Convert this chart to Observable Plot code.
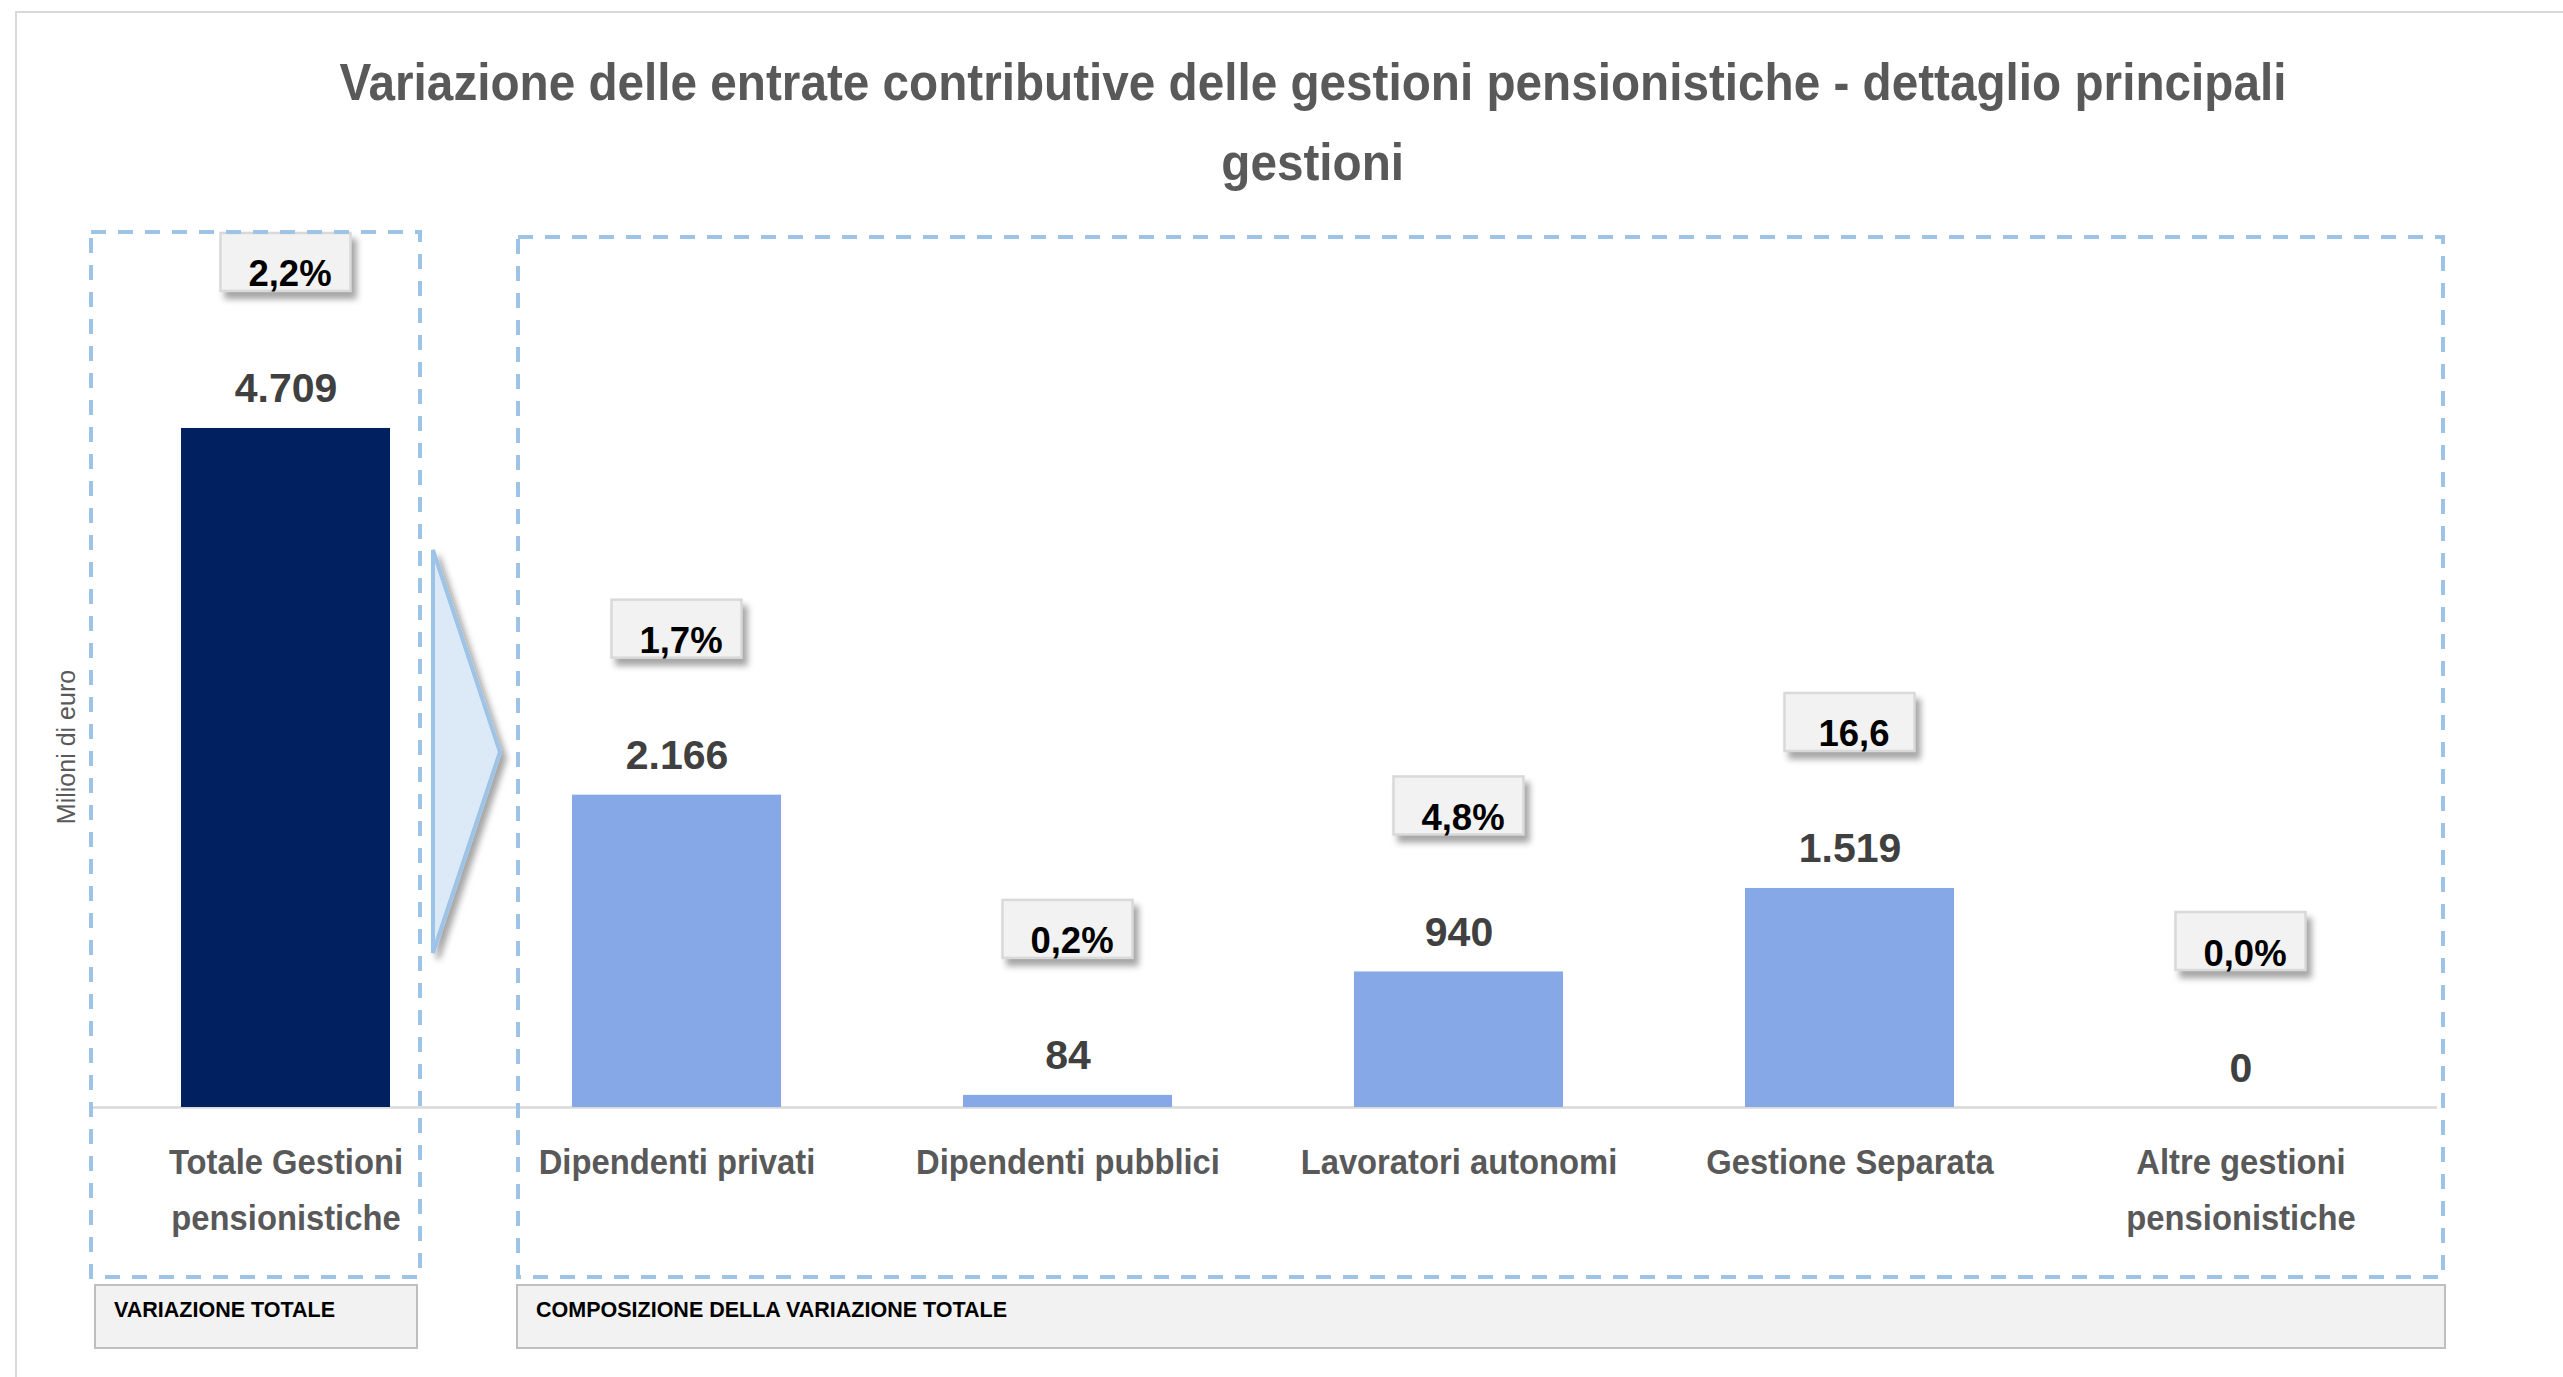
<!DOCTYPE html>
<html>
<head>
<meta charset="utf-8">
<script src="https://cdn.jsdelivr.net/npm/d3@7"></script>
<script src="https://cdn.jsdelivr.net/npm/@observablehq/plot@0.6"></script>
<style>
  html, body { margin: 0; padding: 0; background: #fff; }
  #page { position: relative; width: 2563px; height: 1377px; overflow: hidden; background: #fff; }
  #title { position: absolute; left: 62px; right: 0; top: 42px; text-align: center;
    font-family: "Liberation Sans", Arial, sans-serif; font-weight: bold; font-size: 52px; line-height: 80px; color: #595959; }
  #title span { display: inline-block; white-space: nowrap; transform-origin: 50% 50%; }
  #chart { position: absolute; left: 0; top: 200px; }
  #deco { position: absolute; left: 0; top: 0; pointer-events: none; }
  .foot { position: absolute; box-sizing: border-box; background: #f2f2f2; border: 2px solid #bfbfbf;
    font-family: "Liberation Sans", Arial, sans-serif; font-weight: bold; font-size: 21.5px; line-height: 21.5px;
    color: #000; padding-top: 14px; }
</style>
</head>
<body>
<div id="page">
  <div id="title"><span id="t1">Variazione delle entrate contributive delle gestioni pensionistiche - dettaglio principali</span><br><span id="t2">gestioni</span></div>
  <div id="chart"></div>
  <svg id="deco" width="2563" height="1377">
    <defs>
      <filter id="sh" x="-50%" y="-20%" width="200%" height="140%">
        <feDropShadow dx="5" dy="6" stdDeviation="3" flood-color="#000" flood-opacity="0.35"/>
      </filter>
    </defs>
    <path d="M16,1377 V12 H2563" fill="none" stroke="#d9d9d9" stroke-width="2"/>
    <rect x="91" y="232" width="329" height="1045" fill="none" stroke="#9dc3e6" stroke-width="4" stroke-dasharray="15 12"/>
    <rect x="518" y="237" width="1925" height="1040" fill="none" stroke="#9dc3e6" stroke-width="4" stroke-dasharray="15 12"/>
    <polygon points="433,550 500,752 433,953" fill="#dce9f6" stroke="#9dc3e6" stroke-width="4" filter="url(#sh)"/>
  </svg>
  <div class="foot" style="left:94px; top:1284px; width:324px; height:65px; padding-left:18px;">VARIAZIONE TOTALE</div>
  <div class="foot" style="left:516px; top:1284px; width:1930px; height:65px; padding-left:18px;">COMPOSIZIONE DELLA VARIAZIONE TOTALE</div>
</div>
<script>
// ---- data ----
const categories = [
  "Totale Gestioni pensionistiche",
  "Dipendenti privati",
  "Dipendenti pubblici",
  "Lavoratori autonomi",
  "Gestione Separata",
  "Altre gestioni pensionistiche"
];
const tickLabels = [
  "Totale Gestioni\npensionistiche",
  "Dipendenti privati",
  "Dipendenti pubblici",
  "Lavoratori autonomi",
  "Gestione Separata",
  "Altre gestioni\npensionistiche"
];
const values = [4709, 2166, 84, 940, 1519, 0];
const pctLabels = ["2,2%", "1,7%", "0,2%", "4,8%", "16,6", "0,0%"];
const yAxisLabel = "Milioni di euro";

// ---- build ----
const it = d3.formatLocale({decimal: ",", thousands: ".", grouping: [3], currency: ["€", ""]});
const fmt = it.format(",d");
const rows = categories.map((c, i) => ({cat: c, value: values[i], pct: pctLabels[i], tick: tickLabels[i]}));
const tickOf = new Map(rows.map(d => [d.cat, d.tick]));

const chart = Plot.plot({
  width: 2563,
  height: 1060,
  marginLeft: 89,
  marginRight: 126,
  marginTop: 186,
  marginBottom: 153,
  style: {fontFamily: "'Liberation Sans', Arial, sans-serif", background: "transparent", overflow: "visible"},
  x: {domain: categories, paddingInner: 0.466, paddingOuter: 0.233, label: null},
  y: {domain: [0, 5000], label: null},
  color: {type: "identity"},
  marks: [
    Plot.ruleY([0], {stroke: "#d9d9d9", strokeWidth: 2.5}),
    Plot.barY(rows, {x: "cat", y: "value", fill: d => d.cat === categories[0] ? "#002060" : "#86a8e7"}),
    Plot.text(rows, {x: "cat", y: "value", text: d => fmt(d.value), lineAnchor: "bottom", dy: -26,
      fontSize: 41, fontWeight: "bold", fill: "#404040"}),
    Plot.barY(rows, {x: "cat", y1: "value", y2: "value", insetTop: -58, insetBottom: 0,
      insetLeft: 39.5, insetRight: 39.5, dy: -137, fill: "#f2f2f2", stroke: "#d9d9d9", strokeWidth: 2.5}),
    Plot.text(rows, {x: "cat", y: "value", text: "pct", lineAnchor: "bottom", dy: -142, dx: 4,
      fontSize: 36.5, fontWeight: "bold", fill: "#000"}),
    Plot.axisX({tickSize: 0, tickPadding: 27, fontSize: 36, fontWeight: "bold", fill: "#595959",
      lineHeight: 1.55, tickFormat: d => tickOf.get(d), label: null}),
    Plot.axisY({ticks: [], label: yAxisLabel, labelAnchor: "center", labelArrow: false, labelOffset: 32,
      fontSize: 25, fill: "#595959"})
  ]
});
document.getElementById("chart").appendChild(chart);

// drop shadow on percentage boxes
const barGroups = d3.select(chart).selectAll('g[aria-label="bar"]').nodes();
if (barGroups[1]) barGroups[1].setAttribute("style", "filter: drop-shadow(5px 7px 3px rgba(0,0,0,0.35))");

// condense category labels (narrow typeface look)
const tickTexts = d3.select(chart).selectAll('g[aria-label="x-axis tick label"] text').nodes();
const ref = tickTexts.find(t => t.textContent.includes("pubblici"));
if (ref) {
  const s = 304 / ref.getComputedTextLength();
  tickTexts.forEach(t => {
    const tr = t.getAttribute("transform");
    if (tr) t.setAttribute("transform", tr + ` scale(${s},1)`);
    else {
      const x = +t.getAttribute("x") || 0, y = +t.getAttribute("y") || 0;
      t.setAttribute("transform", `translate(${x},${y}) scale(${s},1) translate(${-x},${-y})`);
    }
  });
}
// condense title
const t1 = document.getElementById("t1"), t2 = document.getElementById("t2");
const ts = 1947 / t1.getBoundingClientRect().width;
t1.style.transform = t2.style.transform = `scaleX(${ts})`;
</script>
</body>
</html>
